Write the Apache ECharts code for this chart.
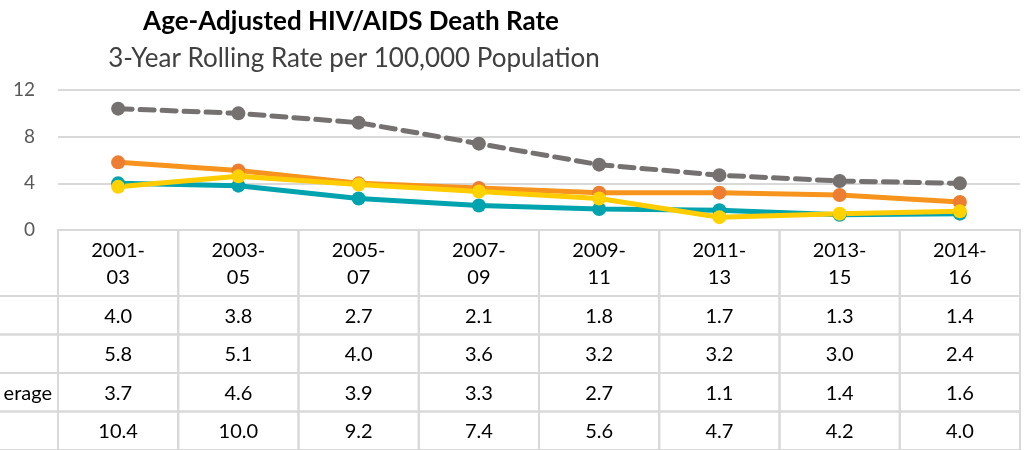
<!DOCTYPE html>
<html>
<head>
<meta charset="utf-8">
<script src="https://cdn.jsdelivr.net/npm/echarts@6/dist/echarts.min.js"></script>
<style>
  html, body { margin: 0; padding: 0; background: #fff; }
  #chart { width: 1029px; height: 450px; }
</style>
</head>
<body>
<div id="chart"></div>
<script>
// data
const categories = ["2001-03", "2003-05", "2005-07", "2007-09", "2009-11", "2011-13", "2013-15", "2014-16"];
const county = [4.0, 3.8, 2.7, 2.1, 1.8, 1.7, 1.3, 1.4];
const state = [5.8, 5.1, 4.0, 3.6, 3.2, 3.2, 3.0, 2.4];
const peerAverage = [3.7, 4.6, 3.9, 3.3, 2.7, 1.1, 1.4, 1.6];
const us = [10.4, 10.0, 9.2, 7.4, 5.6, 4.7, 4.2, 4.0];
const rowLabels = ["", "", "erage", ""]; // only the tail of the 3rd label is visible
const yTicks = [0, 4, 8, 12];

const FONT = "Lato";
const BORDER = "#d9d9d9";
const HEADER_H = 66;
const CELL_FS = 20;

const rows = [county, state, peerAverage, us];
const cellData = [];
rows.forEach((vals, r) => vals.forEach((v, c) => cellData.push([c, r, v])));

const chart = echarts.init(document.getElementById("chart"));

const lineSeries = (name, data, lineColor, dotColor, dashed) => ({
  name: name,
  type: "line",
  xAxisIndex: 0,
  yAxisIndex: 0,
  data: data,
  symbol: "circle",
  symbolSize: 14,
  lineStyle: { color: lineColor, width: 5, type: dashed ? [14, 8] : "solid", cap: "round" },
  itemStyle: { color: dotColor },
  emphasis: { disabled: true },
});

const option = {
  animation: false,
  title: [
    {
      text: "Age-Adjusted HIV/AIDS Death Rate",
      left: 346, top: 4, textAlign: "center",
      textStyle: { fontFamily: FONT, fontSize: 26, fontWeight: "bold", color: "#000" },
    },
    {
      text: "3-Year Rolling Rate per 100,000 Population",
      left: 349, top: 41, textAlign: "center",
      textStyle: { fontFamily: FONT, fontSize: 26, fontWeight: "normal", color: "#404040" },
    },
  ],
  grid: [
    { left: 58, right: 9, top: 90, height: 140 },
    { left: 58, right: 9, top: 296, bottom: 0 },
  ],
  xAxis: [
    {
      type: "category", gridIndex: 0, data: categories, boundaryGap: true,
      axisLine: { show: false }, axisTick: { show: false }, axisLabel: { show: false },
    },
    { type: "category", gridIndex: 1, data: categories, show: false },
  ],
  yAxis: [
    {
      type: "value", gridIndex: 0, min: yTicks[0], max: yTicks[yTicks.length - 1], interval: 4,
      axisLine: { show: false }, axisTick: { show: false },
      axisLabel: { color: "#595959", fontFamily: FONT, fontSize: 19, margin: 23 },
      splitLine: { lineStyle: { color: BORDER, width: 2 } },
    },
    { type: "category", gridIndex: 1, data: [0, 1, 2, 3], inverse: true, show: false },
  ],
  series: [
    lineSeries("County", county, "#00A3AE", "#00A3AE", false),
    lineSeries("State", state, "#F7941D", "#ED7D31", false),
    lineSeries("Peer Average", peerAverage, "#FFCC00", "#FFD200", false),
    lineSeries("U.S.", us, "#767171", "#767171", true),
    {
      // header row of the data table
      type: "custom",
      xAxisIndex: 1,
      yAxisIndex: 1,
      data: categories.map((c, i) => [i, 0]),
      silent: true,
      renderItem: (params, api) => {
        const x = api.coord([api.value(0), 0])[0];
        const w = api.size([1, 0])[0];
        const top = params.coordSys.y - HEADER_H;
        return {
          type: "group",
          children: [
            {
              type: "rect",
              shape: { x: x - w / 2, y: top, width: w, height: HEADER_H },
              style: { fill: "none", stroke: BORDER, lineWidth: 2 },
            },
            {
              type: "text",
              x: x, y: top + HEADER_H / 2 + 1,
              style: {
                text: categories[params.dataIndex].replace("-", "-\n"),
                align: "center", verticalAlign: "middle",
                fontFamily: FONT, fontSize: CELL_FS, lineHeight: 27, fill: "#000",
              },
            },
          ],
        };
      },
    },
    {
      // value cells of the data table
      type: "custom",
      xAxisIndex: 1,
      yAxisIndex: 1,
      data: cellData,
      silent: true,
      renderItem: (params, api) => {
        const col = api.value(0);
        const row = api.value(1);
        const p = api.coord([col, row]);
        const s = api.size([1, 1]);
        const children = [
          {
            type: "rect",
            shape: { x: p[0] - s[0] / 2, y: p[1] - s[1] / 2, width: s[0], height: s[1] },
            style: { fill: "none", stroke: BORDER, lineWidth: 2 },
          },
          {
            type: "text",
            x: p[0], y: p[1] + 1,
            style: {
              text: api.value(2).toFixed(1),
              align: "center", verticalAlign: "middle",
              fontFamily: FONT, fontSize: CELL_FS, fill: "#000",
            },
          },
        ];
        if (col === 0) {
          const left = p[0] - s[0] / 2;
          children.push(
            {
              type: "rect",
              shape: { x: -10, y: p[1] - s[1] / 2, width: left + 10, height: s[1] },
              style: { fill: "none", stroke: BORDER, lineWidth: 2 },
            },
            {
              type: "text",
              x: left - 6, y: p[1] + 1,
              style: {
                text: rowLabels[row],
                align: "right", verticalAlign: "middle",
                fontFamily: FONT, fontSize: CELL_FS, fill: "#000",
              },
            }
          );
        }
        return { type: "group", children: children };
      },
    },
  ],
};

chart.setOption(option);
</script>
</body>
</html>
